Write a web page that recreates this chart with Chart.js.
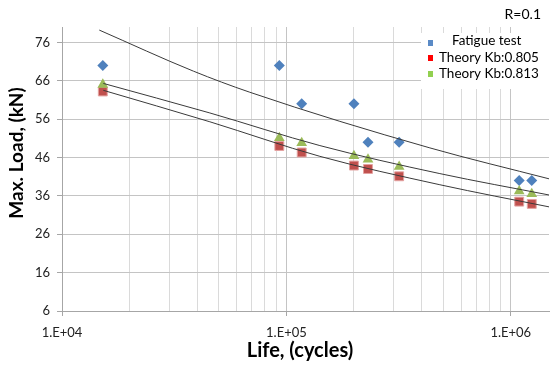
<!DOCTYPE html>
<html>
<head>
<meta charset="utf-8">
<script src="https://cdn.jsdelivr.net/npm/chart.js@4.4.1/dist/chart.umd.min.js"></script>
<style>
html,body{margin:0;padding:0;background:#fff;}
#wrap{width:550px;height:365px;position:relative;}
</style>
</head>
<body>
<div id="wrap"><canvas id="c" width="550" height="365"></canvas></div>
<script>
// ---- data ----
const lifeCycles   = [1.52e4, 9.3e4, 1.17e5, 2.0e5, 2.31e5, 3.18e5, 1.09e6, 1.24e6];
const fatigueTest  = [70, 70, 60, 60, 50, 50, 40, 40];
const theoryKb805  = [63.2, 49.0, 47.3, 43.9, 43.0, 41.1, 34.5, 33.9];
const theoryKb813  = [65.0, 51.1, 49.8, 46.4, 45.5, 43.6, 37.2, 36.5];

const upperCurveLife = [1.466e4, 3.85e4, 6.87e4, 4.36e5, 1.49e6];
const upperCurveLoad = [79.2, 68.5, 63.0, 48.5, 40.4];
const midCurveLife   = [1.528e4, 4.56e4, 1.41e5, 4.83e5, 1.49e6];
const midCurveLoad   = [65.3, 57.6, 49.1, 41.8, 36.2];
const lowCurveLife   = [1.528e4, 4.56e4, 1.41e5, 4.83e5, 1.49e6];
const lowCurveLoad   = [63.5, 55.3, 46.3, 38.9, 33.1];

const seriesNames  = ['Fatigue test', 'Theory Kb:0.805', 'Theory Kb:0.813'];
const yTickValues  = [6, 16, 26, 36, 46, 56, 66, 76];
const xGridValues  = [1e4,2e4,3e4,4e4,5e4,6e4,7e4,8e4,9e4,1e5,2e5,3e5,4e5,5e5,6e5,7e5,8e5,9e5,1e6];
const xMajorValues = [1e4, 1e5, 1e6];
const xMajorLabels = ['1.E+04', '1.E+05', '1.E+06'];
const xTitle = 'Life, (cycles)';
const yTitle = 'Max. Load, (kN)';
const noteText = 'R=0.1';

const pts = (xs, ys) => xs.map((x, i) => ({x: x, y: ys[i]}));
const isMajor = v => xMajorValues.some(m => Math.abs(m - v) < 1e-6 * m);

const curveStyle = {type: 'line', showLine: true, borderColor: '#3a3a3a', borderWidth: 1,
  pointRadius: 0, cubicInterpolationMode: 'monotone', order: 0, fill: false};

const legendColors = ['#5a8ac6', '#ff0000', '#92d050'];

const customDecor = {
  id: 'customDecor',
  afterDraw(chart) {
    const ctx = chart.ctx;
    ctx.save();
    ctx.fillStyle = '#ffffff';
    ctx.fillRect(421, 33, 128, 56);
    const rows = [
      {mx: 428, my: 40, mh: 6, tx: 452, ty: 41},
      {mx: 428, my: 55, mh: 6, tx: 439, ty: 58},
      {mx: 428, my: 71, mh: 6, tx: 439, ty: 74}
    ];
    ctx.font = '13.5px Lato';
    ctx.textBaseline = 'middle';
    ctx.textAlign = 'left';
    rows.forEach((r, i) => {
      ctx.fillStyle = legendColors[i];
      ctx.fillRect(r.mx, r.my, 5, r.mh);
      ctx.fillStyle = '#000';
      ctx.fillText(seriesNames[i], r.tx, r.ty);
    });
    ctx.fillStyle = '#000';
    ctx.font = '14px Lato';
    ctx.textAlign = 'right';
    ctx.fillText(noteText, 541, 14);
    ctx.textAlign = 'center';
    ctx.font = 'bold 20px Lato';
    ctx.fillText(xTitle, 300, 351);
    ctx.font = 'bold 19px Lato';
    ctx.translate(17, 153);
    ctx.rotate(-Math.PI / 2);
    ctx.fillText(yTitle, 0, 0);
    ctx.restore();
  }
};

new Chart(document.getElementById('c'), {
  type: 'scatter',
  data: {
    datasets: [
      Object.assign({label: 'curveUpper', data: pts(upperCurveLife, upperCurveLoad)}, curveStyle),
      Object.assign({label: 'curveMid', data: pts(midCurveLife, midCurveLoad)}, curveStyle),
      Object.assign({label: 'curveLow', data: pts(lowCurveLife, lowCurveLoad)}, curveStyle),
      {label: seriesNames[0], data: pts(lifeCycles, fatigueTest), pointStyle: 'rectRot',
       pointRadius: 5.5, backgroundColor: '#4f81bd', borderColor: '#4f81bd', borderWidth: 0, order: 3},
      {label: seriesNames[1], data: pts(lifeCycles, theoryKb805), pointStyle: 'rect',
       pointRadius: 6.3, backgroundColor: '#c0504d', borderColor: '#e4a3a1', borderWidth: 1, order: 2},
      {label: seriesNames[2], data: pts(lifeCycles, theoryKb813), pointStyle: 'triangle',
       pointRadius: 6.2, backgroundColor: '#9bbb59', borderColor: '#9bbb59', borderWidth: 0, order: 1}
    ]
  },
  options: {
    responsive: false,
    animation: false,
    layout: {autoPadding: false, padding: {top: 27, right: 1, left: 0, bottom: 0}},
    plugins: {legend: {display: false}, tooltip: {enabled: false}},
    scales: {
      x: {
        type: 'logarithmic',
        min: 1e4, max: 1.48e6,
        afterBuildTicks: s => { s.ticks = xGridValues.map(v => ({value: v})); },
        afterFit: s => { s.height = 54; s.paddingLeft = 0; s.paddingRight = 0; },
        ticks: {
          autoSkip: false, maxRotation: 0, padding: 9, color: '#222',
          font: {family: 'Lato', size: 13},
          callback: (v) => { const i = xMajorValues.findIndex(m => Math.abs(m - v) < 1e-6 * m); return i >= 0 ? xMajorLabels[i] : ''; }
        },
        grid: {
          color: c => (c.tick && isMajor(c.tick.value)) ? '#c4c4c4' : '#dadada',
          tickColor: c => (c.tick && isMajor(c.tick.value)) ? '#a6a6a6' : 'rgba(0,0,0,0)',
          tickLength: 5, lineWidth: 1
        },
        border: {color: '#a6a6a6', width: 1}
      },
      y: {
        type: 'linear',
        min: 6, max: 80,
        afterBuildTicks: s => { s.ticks = yTickValues.map(v => ({value: v})); },
        afterFit: s => { s.width = 62; s.paddingTop = 0; s.paddingBottom = 0; },
        ticks: {padding: 7, color: '#222', font: {family: 'Lato', size: 13}},
        grid: {color: '#c4c4c4', tickColor: '#a6a6a6', tickLength: 5, lineWidth: 1},
        border: {color: '#a6a6a6', width: 1}
      }
    }
  },
  plugins: [customDecor]
});
</script>
</body>
</html>
